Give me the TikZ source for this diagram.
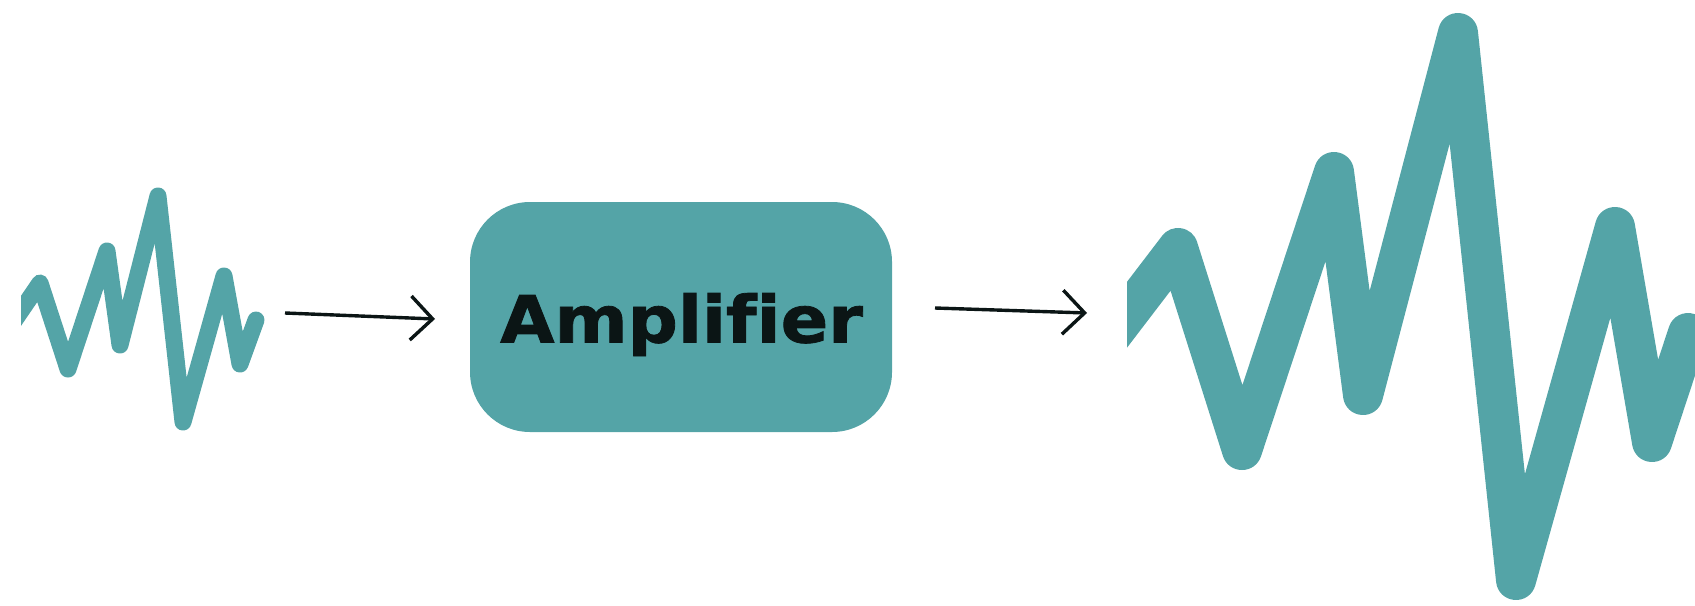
\documentclass[tikz,border=0pt]{standalone}
\usepackage{fontspec}
\newfontfamily\ampfont{DejaVu Sans}[FakeBold=1.2, Ligatures=NoCommon]
\usetikzlibrary{arrows.meta}
\definecolor{wavecol}{HTML}{54A4A7}
\definecolor{inkc}{HTML}{0B1515}
\begin{document}
\begin{tikzpicture}[x=0.5pt,y=-0.5pt,
  wave/.style={draw=wavecol, line join=round, line cap=round},
  smallwave/.style={wave, line width=8.5pt},
  bigwave/.style={wave, line width=20pt},
  conn/.style={draw=inkc, line width=1.7pt, -{Straight Barb[length=11pt,width=22pt]}},
  ampbox/.style={fill=wavecol, rounded corners=30pt, minimum width=211pt, minimum height=115pt, inner sep=0pt},
  amplabel/.style={font=\ampfont\bfseries\fontsize{32.5}{32.5}\selectfont, text=inkc, inner sep=0pt, anchor=base}]
\useasboundingbox (0,0) rectangle (1695,605);
\clip (0,0) rectangle (1695,605);
% small input wave
\begin{scope}
  \clip (21,0) rectangle (1695,605);
  \draw[smallwave] (12,324) -- (40,283) -- (68,369) -- (107,251) -- (120,345)
     -- (158,196) -- (183,422) -- (224,276) -- (240,364) -- (256,320);
\end{scope}
% big output wave
\begin{scope}
  \clip (1127,0) rectangle (1695,605);
  \draw[bigwave] (1110,337) -- (1178,248) -- (1242,450) -- (1334,172) -- (1363,395)
     -- (1458,33) -- (1516,580) -- (1615,227) -- (1652,442) -- (1688,333);
\end{scope}
% amplifier box
\node[ampbox] (amp) at (681,317) {};
\node[amplabel] (amptext) at (681.5,342.5) {\scalebox{1.08}[1]{Amplifier}};
% connectors
\coordinate (a1s) at (285,313);
\coordinate (a1e) at (435,319);
\coordinate (a2s) at (935,308);
\coordinate (a2e) at (1087,313);
\draw[conn] (a1s) -- (a1e);
\draw[conn] (a2s) -- (a2e);
\end{tikzpicture}
\end{document}
